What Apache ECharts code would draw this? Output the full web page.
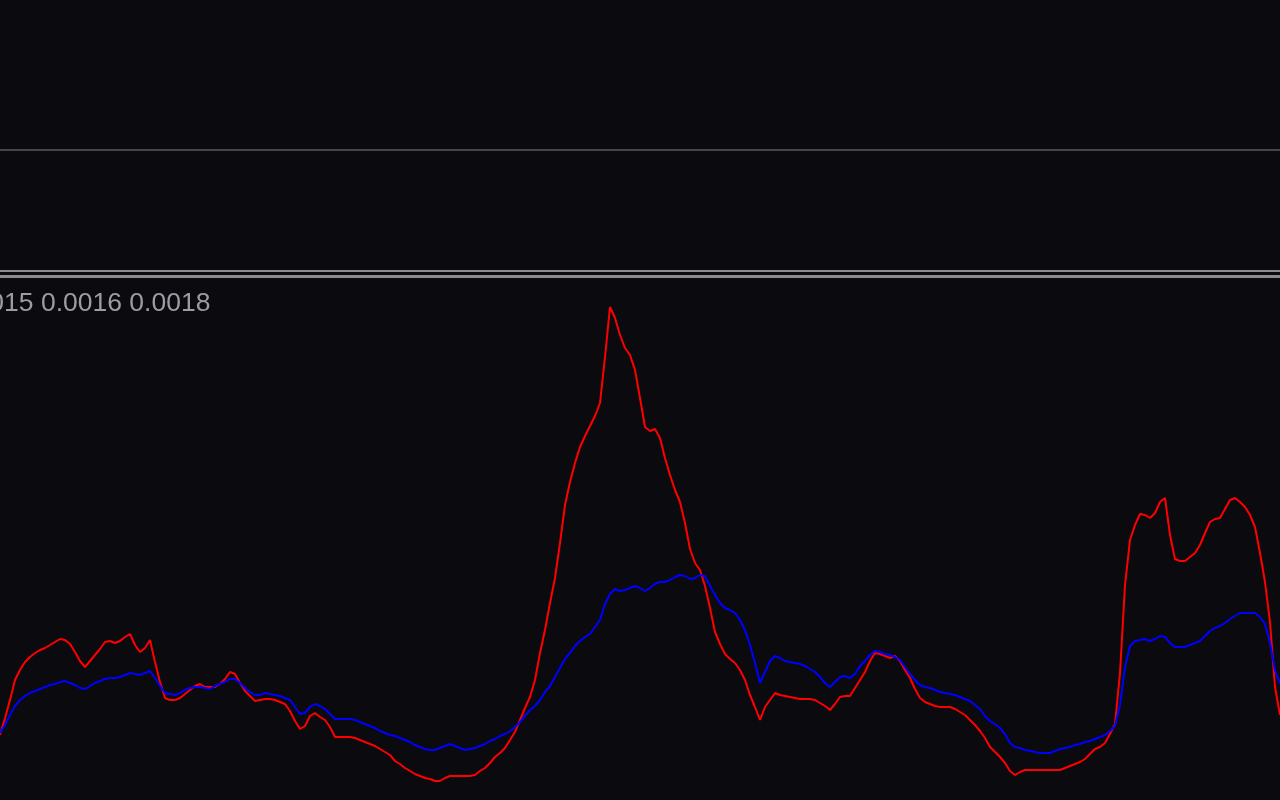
<!DOCTYPE html>
<html>
<head>
<meta charset="utf-8">
<script src="https://cdn.jsdelivr.net/npm/echarts@6/dist/echarts.min.js"></script>
<style>
  html, body { margin: 0; padding: 0; background: #0a0a0f; }
  #chart { width: 1280px; height: 800px; }
</style>
</head>
<body>
<div id="chart"></div>
<script>
// Bar index (one sample per 5 px of the reference window)
const barCount = 257;
const categories = Array.from({ length: barCount }, (_, i) => String(i));

// Indicator panel values (panel units, 0 = bottom of the indicator window)
const redSeries = [
  65,82,100,120,130,138,143,147,150,152,155,158,161,160,156,148,139,133,139,145,
  151,158,159,157,159,163,166,155,148,152,160,138,118,102,100,100,102,106,110,114,
  116,113,113,113,116,121,128,126,117,109,104,99,100,101,101,100,98,96,89,79,
  71,74,84,87,83,80,73,63,63,63,63,62,60,58,56,54,51,48,45,39,
  36,32,29,26,24,22,21,19,19,22,24,24,24,24,24,25,29,32,37,43,
  47,52,60,68,80,92,103,120,147,170,197,222,257,295,318,337,353,364,374,384,
  397,443,493,482,465,452,445,430,402,373,369,371,362,342,325,310,298,277,251,237,
  230,214,192,168,156,146,141,137,130,120,105,93,80,93,100,107,105,104,103,102,
  101,101,101,100,97,94,90,96,103,104,104,112,120,128,139,147,146,144,142,144,
  139,130,122,111,102,98,96,94,93,93,93,91,88,85,80,75,69,62,53,48,
  43,37,29,25,28,30,30,30,30,30,30,30,30,32,34,36,38,41,46,51,
  53,57,66,76,127,215,260,275,286,285,282,287,298,302,265,241,239,239,243,247,
  255,267,278,281,282,291,300,302,298,293,285,273,247,218,178,113,85
];
const blueSeries = [
  67,75,85,94,100,104,107,109,111,113,115,116,118,119,117,115,112,111,114,117,
  119,121,122,122,123,125,127,126,125,127,129,122,114,107,106,105,107,110,112,113,
  113,112,111,114,116,118,121,121,117,112,108,105,105,107,106,105,104,102,100,93,
  86,87,93,96,94,91,86,81,81,81,81,80,78,76,74,72,69,67,65,64,
  62,60,58,55,53,51,50,50,52,54,56,54,52,50,51,52,54,56,59,61,
  64,66,69,73,78,84,90,94,100,108,114,123,132,141,147,154,159,163,166,173,
  180,196,206,211,209,210,212,214,212,209,212,216,218,218,220,223,225,224,221,222,
  225,224,214,205,197,192,190,187,180,170,155,137,117,128,139,144,142,139,138,137,
  136,134,131,128,123,117,113,118,123,124,122,126,134,139,145,149,148,146,145,143,
  140,133,126,120,115,113,112,110,108,107,106,105,103,101,99,95,91,84,79,76,
  72,66,57,53,52,50,49,48,47,47,47,49,51,52,53,55,56,58,59,61,
  63,65,69,74,95,133,154,159,160,161,159,161,164,163,157,153,153,153,155,157,
  159,164,169,172,174,177,181,184,187,187,187,187,183,176,157,130,116
];

// Indicator label values shown at the top-left of the window
const labelValues = ['0.0015', '0.0016', '0.0018'];

const chart = echarts.init(document.getElementById('chart'), null, { renderer: 'canvas' });

chart.setOption({
  backgroundColor: '#0a0a0f',
  animation: false,
  grid: { left: 0, right: 0, top: 277, bottom: 0, containLabel: false },
  xAxis: {
    type: 'category',
    data: categories,
    boundaryGap: false,
    show: false
  },
  yAxis: {
    type: 'value',
    min: 0,
    max: 523,
    show: false,
    splitLine: { show: false }
  },
  graphic: [
    { type: 'rect', silent: true, z: 10, shape: { x: 0, y: 149, width: 1280, height: 2 }, style: { fill: '#45454d' } },
    { type: 'rect', silent: true, z: 10, shape: { x: 0, y: 270, width: 1280, height: 2 }, style: { fill: '#8a8a92' } },
    { type: 'rect', silent: true, z: 10, shape: { x: 0, y: 275, width: 1280, height: 3 }, style: { fill: '#8a8a92' } },
    {
      type: 'text', silent: true, z: 10, x: -47.5, y: 290,
      style: {
        text: labelValues.join(' '),
        fill: '#9c9ca4',
        font: '26.5px "Liberation Sans", Arial, sans-serif',
        textVerticalAlign: 'top',
        verticalAlign: 'top'
      }
    }
  ],
  series: [
    {
      name: 'red',
      type: 'line',
      data: redSeries,
      showSymbol: false,
      symbol: 'none',
      silent: true,
      z: 2,
      lineStyle: { color: '#ff0000', width: 2 }
    },
    {
      name: 'blue',
      type: 'line',
      data: blueSeries,
      showSymbol: false,
      symbol: 'none',
      silent: true,
      z: 3,
      lineStyle: { color: '#0000ff', width: 2 }
    }
  ]
});
</script>
</body>
</html>
